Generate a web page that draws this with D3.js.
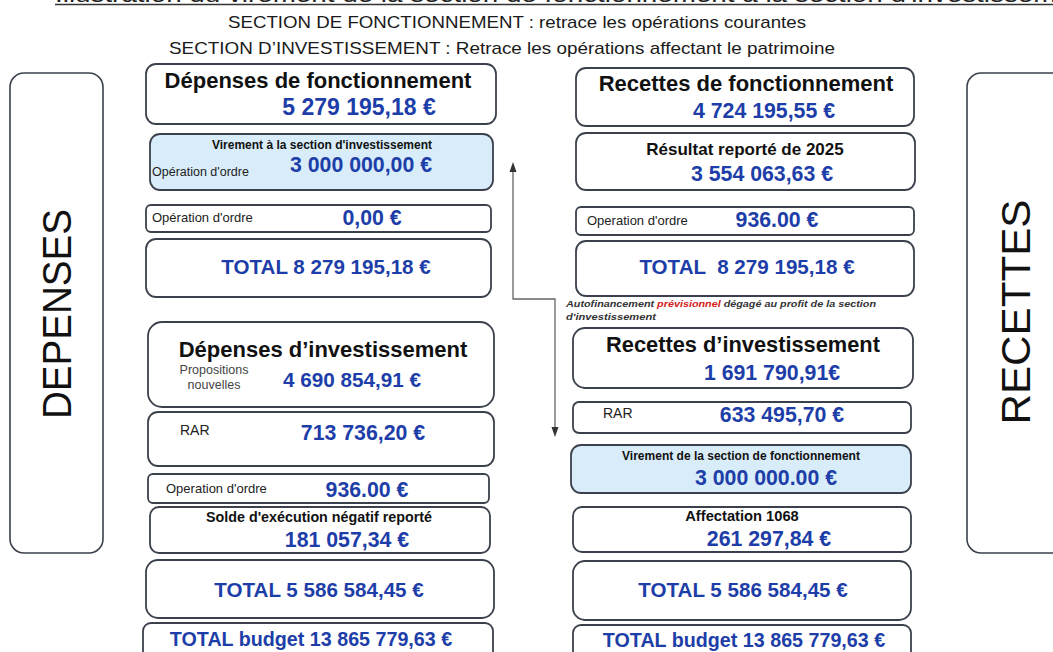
<!DOCTYPE html>
<html>
<head>
<meta charset="utf-8">
<script src="https://cdn.jsdelivr.net/npm/d3@7"></script>
<style>
  html, body { margin: 0; background: #fff; }
  svg { display: block; font-family: "Liberation Sans", Arial, sans-serif; }
</style>
</head>
<body>
<div id="chart"></div>
<script>
  // --- contents ---
  const topTitle = "Illustration du virement de la section de fonctionnement à la section d'investissement";
  const headerLines = [
    "SECTION DE FONCTIONNEMENT : retrace les opérations courantes",
    "SECTION D\u2019INVESTISSEMENT : Retrace les opérations affectant le patrimoine"
  ];
  const sideLabels = ["DEPENSES", "RECETTES"];

  const depTitles = ["Dépenses de fonctionnement", "Virement à la section d'investissement", null, null,
    "Dépenses d\u2019investissement", null, null, "Solde d'exécution négatif reporté", null, null];
  const depNotes = [null, "Opération d'ordre", "Opération d'ordre", null,
    "Propositions|nouvelles", "RAR", "Operation d'ordre", null, null, null];
  const depValues = ["5 279 195,18 €", "3 000 000,00 €", "0,00 €", "TOTAL 8 279 195,18 €",
    "4 690 854,91 €", "713 736,20 €", "936.00 €", "181 057,34 €",
    "TOTAL 5 586 584,45 €", "TOTAL budget 13 865 779,63 €"];

  const recTitles = ["Recettes de fonctionnement", "Résultat reporté de 2025", null, null,
    "Recettes d\u2019investissement", null, "Virement de la section de fonctionnement", "Affectation 1068", null, null];
  const recNotes = [null, null, "Operation d'ordre", null, null, "RAR", null, null, null, null];
  const recValues = ["4 724 195,55 €", "3 554 063,63 €", "936.00 €", "TOTAL  8 279 195,18 €",
    "1 691 790,91€", "633 495,70 €", "3 000 000.00 €", "261 297,84 €",
    "TOTAL 5 586 584,45 €", "TOTAL budget 13 865 779,63 €"];

  const autoNote = ["Autofinancement ", "prévisionnel", " dégagé au profit de la section", "d'investissement"];

  // --- layout (geometry only) ---
  const W = 1053, H = 652;
  const depLayout = [
    {x:146, y:64,  w:350, h:60, r:10, tx:318, ty:88,  ts:22, vx:359, vy:115, vs:23},
    {x:150, y:134, w:343, h:56, r:10, fill:true, tx:322, ty:149, ts:12, vx:361, vy:172, nx:152, ny:176, ns:12.5},
    {x:146, y:205, w:345, h:27, r:5,  vx:372, vy:225, nx:152, ny:222, ns:13},
    {x:146, y:239, w:345, h:58, r:10, vx:326, vy:274, vs:20.6},
    {x:148, y:322, w:346, h:85, r:14, tx:323, ty:357, ts:22, vx:352, vy:387, vs:20.7, nx:214, ny:374, ns:12.5, nc:true},
    {x:148, y:412, w:346, h:54, r:10, vx:363, vy:440, nx:180, ny:435, ns:14},
    {x:148, y:474, w:341, h:29, r:5,  vx:367, vy:497, nx:166, ny:493, ns:13},
    {x:150, y:507, w:340, h:46, r:9,  tx:319, ty:522, ts:14.3, vx:347, vy:547},
    {x:146, y:560, w:348, h:58, r:12, vx:319, vy:597, vs:20.6},
    {x:143, y:623, w:350, h:40, r:8,  vx:311, vy:646, vs:19.7}
  ];
  const recLayout = [
    {x:576, y:68,  w:338, h:58, r:10, tx:746, ty:91,  ts:22, vx:764, vy:118},
    {x:576, y:133, w:339, h:57, r:10, tx:745, ty:155, ts:17, vx:762, vy:181},
    {x:576, y:207, w:338, h:28, r:5,  vx:777, vy:227, nx:587, ny:225, ns:13},
    {x:576, y:241, w:338, h:55, r:10, vx:747, vy:274, vs:20.6},
    {x:573, y:328, w:340, h:60, r:12, tx:743, ty:352, ts:21.8, vx:772, vy:380},
    {x:573, y:402, w:338, h:31, r:6,  vx:782, vy:422, nx:603, ny:418, ns:14},
    {x:571, y:445, w:340, h:48, r:10, fill:true, tx:741, ty:460, ts:12, vx:766, vy:485},
    {x:573, y:507, w:338, h:45, r:9,  tx:742, ty:521, ts:14.7, vx:769, vy:546},
    {x:573, y:561, w:338, h:59, r:12, vx:743, vy:597, vs:20.6},
    {x:573, y:625, w:338, h:40, r:8,  vx:744, vy:647, vs:19.7}
  ];

  const blue = "#1d3ea8";
  const stroke = "#3b414c";

  const svg = d3.select("#chart").append("svg").attr("width", W).attr("height", H);

  // cut-off underlined title at the very top
  svg.append("text").attr("x", 55).attr("y", 1.5).attr("font-size", 22)
    .attr("textLength", 1040).attr("lengthAdjust", "spacingAndGlyphs")
    .attr("fill", "#222").text(topTitle);
  svg.append("line").attr("x1", 55).attr("x2", W).attr("y1", 4.5).attr("y2", 4.5)
    .attr("stroke", "#333").attr("stroke-width", 1.5);

  // headers
  svg.selectAll(".hdr").data(headerLines).join("text")
    .attr("class", "hdr")
    .attr("x", (d, i) => i === 0 ? 517 : 502)
    .attr("y", (d, i) => i === 0 ? 28 : 54)
    .attr("text-anchor", "middle")
    .attr("font-family", "'Liberation Sans Narrow', 'Arial Narrow', sans-serif")
    .attr("font-size", 17)
    .attr("textLength", (d, i) => i === 0 ? 578 : 666)
    .attr("lengthAdjust", "spacingAndGlyphs")
    .attr("fill", "#1a1a1a")
    .text(d => d);

  // side boxes
  const sides = [{x:10, w:93, cx:57}, {x:967, w:100, cx:1016}];
  svg.selectAll(".side").data(sideLabels).join("rect")
    .attr("class", "side")
    .attr("x", (d, i) => sides[i].x).attr("y", 73)
    .attr("width", (d, i) => sides[i].w).attr("height", 480)
    .attr("rx", 14).attr("fill", "#fff")
    .attr("stroke", stroke).attr("stroke-width", 1.6);
  svg.selectAll(".sideTxt").data(sideLabels).join("text")
    .attr("class", "sideTxt")
    .attr("transform", (d, i) => `translate(${sides[i].cx + 14},${i === 0 ? 314 : 312}) rotate(-90)`)
    .attr("text-anchor", "middle")
    .attr("font-size", 40)
    .attr("textLength", (d, i) => i === 0 ? 210 : 225)
    .attr("lengthAdjust", "spacingAndGlyphs")
    .attr("fill", "#111")
    .text(d => d);

  // transfer arrow
  const arrow = d3.path();
  arrow.moveTo(513, 170); arrow.lineTo(513, 299); arrow.lineTo(555, 299); arrow.lineTo(555, 428);
  svg.append("path").attr("d", arrow.toString())
    .attr("fill", "none").attr("stroke", "#666").attr("stroke-width", 1.3);
  svg.append("path").attr("d", "M509.5,172 L513,162 L516.5,172 Z").attr("fill", "#333");
  svg.append("path").attr("d", "M551.5,427 L555,437 L558.5,427 Z").attr("fill", "#333");

  function drawColumn(cls, layout, titles, notes, values) {
    const g = svg.append("g").attr("class", cls);
    const box = g.selectAll("g").data(layout).join("g");
    box.append("rect")
      .attr("x", d => d.x).attr("y", d => d.y)
      .attr("width", d => d.w).attr("height", d => d.h)
      .attr("rx", d => d.r)
      .attr("fill", d => d.fill ? "#d8ecf9" : "#fff")
      .attr("stroke", stroke).attr("stroke-width", 1.8);

    box.filter((d, i) => titles[i]).append("text")
      .attr("x", d => d.tx).attr("y", d => d.ty)
      .attr("text-anchor", "middle")
      .attr("font-size", d => d.ts)
      .attr("font-weight", "bold")
      .attr("fill", "#111")
      .text(d => titles[layout.indexOf(d)]);

    box.filter((d, i) => notes[i]).each(function(d) {
      const i = layout.indexOf(d);
      const parts = notes[i].split("|");
      d3.select(this).selectAll("text.note").data(parts).join("text")
        .attr("class", "note")
        .attr("x", d.nx)
        .attr("y", (p, k) => d.ny + k * 15)
        .attr("text-anchor", d.nc ? "middle" : "start")
        .attr("font-size", d.ns)
        .attr("fill", d.nc ? "#444" : "#222")
        .text(p => p);
    });

    box.append("text")
      .attr("x", d => d.vx).attr("y", d => d.vy)
      .attr("text-anchor", "middle")
      .attr("font-size", d => d.vs || 21.3)
      .attr("font-weight", "bold")
      .attr("fill", blue)
      .style("white-space", "pre")
      .text(d => values[layout.indexOf(d)]);
  }

  drawColumn("dep", depLayout, depTitles, depNotes, depValues);
  drawColumn("rec", recLayout, recTitles, recNotes, recValues);

  // note about self-financing
  const note = svg.append("g").attr("font-size", 9.5).attr("font-weight", "bold")
    .attr("font-style", "italic").attr("fill", "#333");
  const l1 = note.append("text").attr("x", 566).attr("y", 307)
    .attr("textLength", 310).attr("lengthAdjust", "spacingAndGlyphs");
  l1.selectAll("tspan").data(autoNote.slice(0, 3)).join("tspan")
    .attr("fill", (d, i) => i === 1 ? "#d42020" : "#333")
    .text(d => d);
  note.append("text").attr("x", 566).attr("y", 320)
    .attr("textLength", 90).attr("lengthAdjust", "spacingAndGlyphs")
    .text(autoNote[3]);
</script>
</body>
</html>
